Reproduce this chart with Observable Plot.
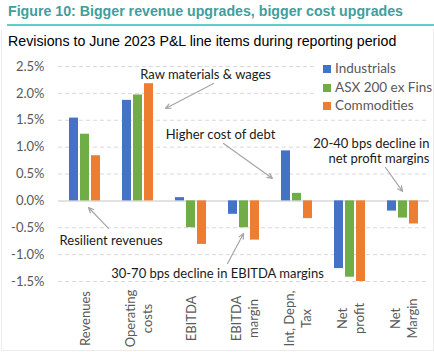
<!DOCTYPE html>
<html><head><meta charset="utf-8">
<script src="https://cdn.jsdelivr.net/npm/d3@7"></script>
<script src="https://cdn.jsdelivr.net/npm/@observablehq/plot@0.6"></script>
<style>
body{margin:0;background:#fff;}
#wrap{position:relative;width:434px;height:352px;overflow:hidden;font-family:"Liberation Sans",Arial,sans-serif;}
#title{position:absolute;left:8px;top:3px;font-weight:bold;font-size:14.2px;color:#3f9e9e;white-space:nowrap;}
#rule{position:absolute;left:7px;right:0;top:24px;height:2px;background:#5dcdcd;}
#box{position:absolute;left:1px;top:29px;width:431px;height:321px;border:1px solid #ececec;border-top:none;}
#sub{position:absolute;left:8px;top:33px;font-size:14.2px;color:#000;white-space:nowrap;}
#chart{position:absolute;left:0;top:52px;}
#legend{position:absolute;left:314px;top:58px;width:115px;height:56px;background:#fff;font-family:Lato,sans-serif;font-size:13.5px;color:#595959;}
.lrow{position:absolute;left:9px;height:18px;line-height:18px;white-space:nowrap;}
.sw{display:inline-block;width:8px;height:8px;margin-right:4px;vertical-align:0px;}
</style></head>
<body>
<div id="wrap">
  <div id="title">Figure 10: Bigger revenue upgrades, bigger cost upgrades</div>
  <div id="rule"></div>
  <div id="box"></div>
  <div id="sub">Revisions to June 2023 P&amp;L line items during reporting period</div>
  <div id="chart"></div>
  <div id="legend"></div>
</div>
<script>
const categories = ["Revenues","Operating\ncosts","EBITDA","EBITDA\nmargin","Int, Depn,\nTax","Net\nprofit","Net\nMargin"];
const seriesNames = ["Industrials","ASX 200 ex Fins","Commodities"];
const industrials = [1.54, 1.87, 0.06, -0.25, 0.93, -1.26, -0.19];
const asx200exFins = [1.24, 1.97, -0.50, -0.50, 0.14, -1.42, -0.32];
const commodities = [0.84, 2.18, -0.81, -0.73, -0.33, -1.50, -0.43];
const seriesColors = ["#4472C4", "#70AD47", "#ED7D31"];
const yTicks = [-1.5, -1.0, -0.5, 0, 0.5, 1.0, 1.5, 2.0, 2.5];

const annotationTexts = [
  {text: "Raw materials & wages", x: 2.274, y: 2.36},
  {text: "Higher cost of debt", x: 2.557, y: 1.245},
  {text: "Resilient revenues", x: 0.493, y: -0.74},
  {text: "30-70 bps decline in EBITDA margins", x: 2.5, y: -1.34}
];
const rightAnnotations = [
  {text: "20-40 bps decline in\nnet profit margins", x: 6.5, y: 0.94}
];
const annotationArrows = [
  {x1: 2.425, y1: 2.184, x2: 1.519, y2: 1.719},
  {x1: 2.613, y1: 1.068, x2: 3.538, y2: 0.417},
  {x1: 5.670, y1: 0.621, x2: 5.991, y2: 0.175},
  {x1: 0.443, y1: -0.513, x2: 0.066, y2: -0.123},
  {x1: 2.689, y1: -1.165, x2: 2.991, y2: -0.607}
];

const seriesValues = [industrials, asx200exFins, commodities];
const rows = [];
seriesValues.forEach((vals, s) => vals.forEach((v, i) => rows.push({i, s, series: seriesNames[s], value: v})));

const step = 0.2075, half = 0.085;
const textStyle = {fill: "#1a1a1a", fontSize: 13, stroke: "white", strokeWidth: 4, lineAnchor: "middle", lineHeight: 1.15};
const chart = Plot.plot({
  width: 434,
  height: 299,
  marginLeft: 58,
  marginRight: 5,
  marginTop: 14,
  marginBottom: 70,
  style: {fontFamily: "Lato, sans-serif", fontSize: "13px", background: "transparent"},
  x: {domain: [-0.5, 6.5], axis: null},
  y: {domain: [-1.5, 2.5], axis: null},
  color: {domain: seriesNames, range: seriesColors},
  marks: [
    Plot.ruleY(yTicks.filter(d => d !== 0), {stroke: "#d9d9d9", strokeDasharray: "4,3"}),
    Plot.ruleY([0], {stroke: "#d9d9d9", strokeWidth: 1.5}),
    Plot.rectY(rows, {
      x1: d => d.i + (d.s - 1) * step - half,
      x2: d => d.i + (d.s - 1) * step + half,
      y1: 0, y2: "value", fill: "series"
    }),
    Plot.axisY({ticks: yTicks, tickFormat: d => d.toFixed(1) + "%", tickSize: 0, tickPadding: 14, fill: "#595959", fontSize: 13}),
    Plot.axisX({ticks: d3.range(categories.length), tickFormat: i => categories[i], tickRotate: -90, tickSize: 0, tickPadding: 37,
      textAnchor: "middle", lineAnchor: "middle", lineHeight: 1.3, fill: "#595959", fontSize: 13}),
    Plot.arrow(annotationArrows, {x1: "x1", y1: "y1", x2: "x2", y2: "y2", stroke: "#a6a6a6", strokeWidth: 1.2, headLength: 7, headAngle: 50}),
    Plot.text(annotationTexts, {x: "x", y: "y", text: "text", textAnchor: "middle", ...textStyle}),
    Plot.text(rightAnnotations, {x: "x", y: "y", text: "text", textAnchor: "end", ...textStyle})
  ]
});
document.getElementById("chart").appendChild(chart);

const legend = document.getElementById("legend");
const centers = [9.7, 28.7, 47];
seriesNames.forEach((name, s) => {
  const row = document.createElement("div");
  row.className = "lrow";
  row.style.top = (centers[s] - 9) + "px";
  row.innerHTML = `<span class="sw" style="background:${seriesColors[s]}"></span>${name}`;
  legend.appendChild(row);
});
</script>
</body></html>
